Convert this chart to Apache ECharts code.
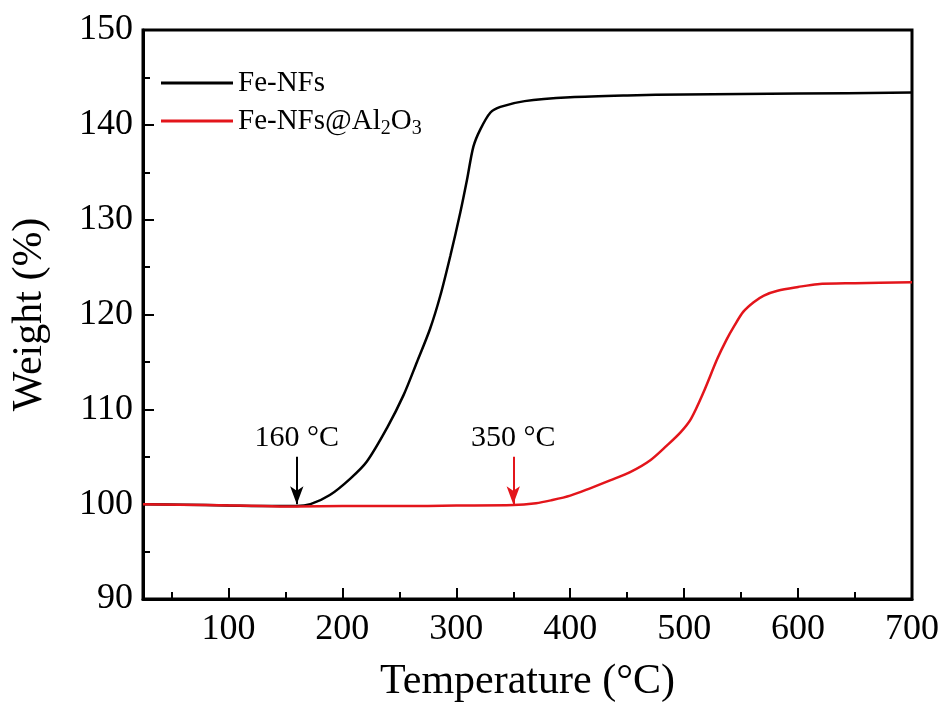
<!DOCTYPE html>
<html>
<head>
<meta charset="utf-8">
<script src="https://cdn.jsdelivr.net/npm/echarts@6/dist/echarts.min.js"></script>
<style>
  html, body { margin: 0; padding: 0; background: #fff; }
  #main { width: 946px; height: 708px; }
</style>
</head>
<body>
<div id="main"></div>
<script>
// 数据
const feTemp = [25, 60, 100, 140, 160, 172, 189, 207, 221.5, 239, 253.7, 265.5, 277, 286, 294.8, 303.6, 309.4, 315, 321, 330, 338.7, 360, 400, 450, 500, 600, 700];
const feWeight = [100.0, 99.95, 99.85, 99.8, 99.8, 100.0, 100.96, 102.7, 104.5, 108.0, 111.5, 115.0, 118.5, 122.0, 126.2, 130.8, 134.2, 137.7, 139.5, 141.3, 141.9, 142.5, 142.9, 143.1, 143.2, 143.3, 143.4];

const alTemp = [25, 80, 130, 160, 200, 250, 300, 350, 370, 383, 400, 418, 435, 453, 470, 485, 497, 506, 517, 529, 537, 544, 552, 561, 570, 582, 600, 617, 650, 700];
const alWeight = [100.0, 99.9, 99.8, 99.75, 99.8, 99.8, 99.85, 99.9, 100.1, 100.4, 100.9, 101.7, 102.5, 103.4, 104.6, 106.2, 107.6, 109.0, 111.8, 115.3, 117.3, 118.8, 120.3, 121.3, 122.0, 122.5, 122.9, 123.2, 123.3, 123.4];

const xMajor = [100, 200, 300, 400, 500, 600, 700];
const xMinor = [50, 150, 250, 350, 450, 550, 650];

const font = '"Liberation Serif", "DejaVu Serif", serif';
const red = '#e3151b';

let myChart = echarts.init(document.getElementById('main'));

const zip = (a, b) => a.map((v, i) => [v, b[i]]);

let option = {
  animation: false,
  backgroundColor: '#fff',
  grid: {
    left: 143, right: 34, top: 30, bottom: 107,
    show: true, borderColor: '#000', borderWidth: 3
  },
  legend: {
    orient: 'vertical',
    left: 156, top: 60,
    icon: 'rect',
    itemWidth: 72, itemHeight: 3, itemGap: -12,
    textStyle: {
      fontFamily: font, fontSize: 29, color: '#000', lineHeight: 36,
      rich: {
        n: { fontFamily: font, fontSize: 29, color: '#000', lineHeight: 36 },
        sub: { fontFamily: font, fontSize: 20, color: '#000', lineHeight: 20, verticalAlign: 'bottom', padding: [30, 0, 0, 0] }
      }
    },
    formatter: function (name) {
      if (name === 'Fe-NFs@Al2O3') return '{n|Fe-NFs@Al}{sub|2}{n|O}{sub|3}';
      return name;
    },
    data: ['Fe-NFs', 'Fe-NFs@Al2O3']
  },
  xAxis: [
    {
      type: 'value', min: 25, max: 700,
      name: 'Temperature (\u00B0C)', nameLocation: 'middle', nameGap: 62,
      nameTextStyle: { fontFamily: font, fontSize: 42, color: '#000' },
      axisLine: { show: true, onZero: false, lineStyle: { color: '#000', width: 3 } },
      axisTick: { show: true, inside: true, length: 11, customValues: xMajor, lineStyle: { color: '#000', width: 2 } },
      axisLabel: { customValues: xMajor, margin: 13, fontFamily: font, fontSize: 36, color: '#000' },
      splitLine: { show: false }
    },
    {
      type: 'value', min: 25, max: 700, position: 'bottom',
      axisLine: { show: false, onZero: false },
      axisTick: { show: true, inside: true, length: 7, customValues: xMinor, lineStyle: { color: '#000', width: 2 } },
      axisLabel: { show: false },
      splitLine: { show: false }
    }
  ],
  yAxis: {
    type: 'value', min: 90, max: 150, interval: 10,
    name: 'Weight (%)', nameLocation: 'middle', nameGap: 92,
    nameTextStyle: { fontFamily: font, fontSize: 42, color: '#000' },
    axisLine: { show: true, onZero: false, lineStyle: { color: '#000', width: 3 } },
    axisTick: { show: true, inside: true, length: 11, lineStyle: { color: '#000', width: 2 } },
    minorTick: { show: true, splitNumber: 2, length: 7, lineStyle: { color: '#000', width: 2 } },
    axisLabel: { margin: 10, fontFamily: font, fontSize: 36, color: '#000' },
    splitLine: { show: false }
  },
  series: [
    {
      name: 'Fe-NFs', type: 'line', data: zip(feTemp, feWeight),
      showSymbol: false, symbol: 'none', smooth: 0.3,
      color: '#000', lineStyle: { color: '#000', width: 2.5 },
      markLine: {
        silent: true, symbol: ['none', 'arrow'], symbolSize: [10, 18],
        lineStyle: { color: '#000', width: 2, type: 'solid' },
        label: { show: true, position: 'start', distance: 4, formatter: '160 \u00B0C', fontFamily: font, fontSize: 30, color: '#000' },
        data: [[{ coord: [160, 105.0] }, { coord: [160, 100.0] }]]
      }
    },
    {
      name: 'Fe-NFs@Al2O3', type: 'line', data: zip(alTemp, alWeight),
      showSymbol: false, symbol: 'none', smooth: 0.3,
      color: red, lineStyle: { color: red, width: 2.5 },
      markLine: {
        silent: true, symbol: ['none', 'arrow'], symbolSize: [10, 18],
        lineStyle: { color: red, width: 2, type: 'solid' },
        label: { show: true, position: 'start', distance: 4, formatter: '350 \u00B0C', fontFamily: font, fontSize: 30, color: '#000' },
        data: [[{ coord: [350, 105.0] }, { coord: [350, 100.0] }]]
      }
    }
  ]
};

myChart.setOption(option);
</script>
</body>
</html>
